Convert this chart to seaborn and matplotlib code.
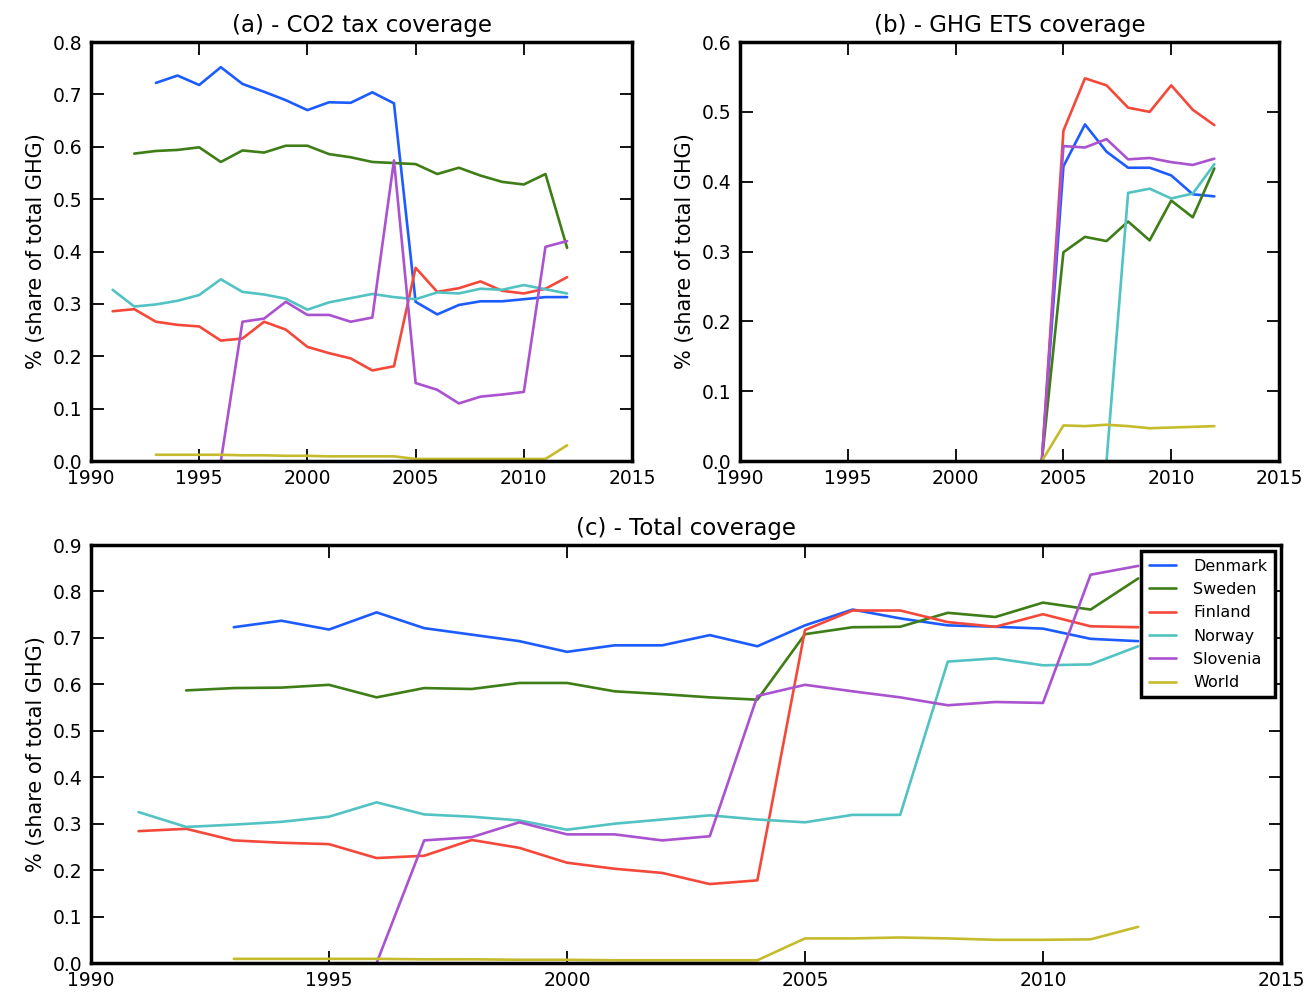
import numpy as np
import pandas as pd
import matplotlib
matplotlib.use("Agg")
import matplotlib.pyplot as plt
import seaborn as sns

countries = ["Denmark", "Sweden", "Finland", "Norway", "Slovenia", "World"]
colors = ["#1c5cff", "#3f7d17", "#f4493a", "#52c2c2", "#aa52cf", "#c5bb2d"]

years = list(range(1991, 2013))  # 1991..2012
N = None

# (a) CO2 tax coverage
tax_denmark = [N, N, 0.722, 0.736, 0.718, 0.752, 0.720, 0.705, 0.689, 0.670, 0.685, 0.684,
               0.704, 0.683, 0.304, 0.280, 0.298, 0.305, 0.305, 0.309, 0.313, 0.313]
tax_sweden = [N, 0.587, 0.592, 0.594, 0.599, 0.571, 0.593, 0.589, 0.602, 0.602, 0.586, 0.580,
              0.571, 0.569, 0.567, 0.548, 0.560, 0.545, 0.533, 0.528, 0.548, 0.407]
tax_finland = [0.286, 0.290, 0.266, 0.260, 0.257, 0.230, 0.234, 0.266, 0.251, 0.218, 0.206, 0.196,
               0.173, 0.181, 0.369, 0.323, 0.330, 0.343, 0.325, 0.320, 0.329, 0.351]
tax_norway = [0.327, 0.295, 0.299, 0.306, 0.317, 0.347, 0.323, 0.318, 0.310, 0.289, 0.303, 0.311,
              0.319, 0.313, 0.309, 0.322, 0.320, 0.329, 0.327, 0.336, 0.328, 0.320]
tax_slovenia = [N, N, N, N, N, 0.0, 0.266, 0.272, 0.304, 0.279, 0.279, 0.266,
                0.274, 0.574, 0.149, 0.136, 0.110, 0.123, 0.127, 0.132, 0.409, 0.420]
tax_world = [N, N, 0.012, 0.012, 0.012, 0.012, 0.011, 0.011, 0.010, 0.010, 0.009, 0.009,
             0.009, 0.009, 0.004, 0.004, 0.004, 0.004, 0.004, 0.004, 0.004, 0.030]

# (b) GHG ETS coverage
ets_denmark = [N] * 13 + [0.0, 0.422, 0.482, 0.443, 0.420, 0.420, 0.409, 0.382, 0.379]
ets_sweden = [N] * 13 + [0.0, 0.299, 0.321, 0.315, 0.343, 0.316, 0.373, 0.349, 0.419]
ets_finland = [N] * 13 + [0.0, 0.473, 0.548, 0.538, 0.506, 0.500, 0.538, 0.503, 0.481]
ets_norway = [N] * 16 + [0.0, 0.384, 0.390, 0.376, 0.383, 0.425]
ets_slovenia = [N] * 13 + [0.0, 0.451, 0.449, 0.461, 0.432, 0.434, 0.428, 0.424, 0.433]
ets_world = [N] * 13 + [0.0, 0.051, 0.050, 0.052, 0.050, 0.047, 0.048, 0.049, 0.050]

# (c) Total coverage
tot_denmark = [N, N, 0.723, 0.737, 0.718, 0.755, 0.721, 0.707, 0.693, 0.670, 0.684, 0.684,
               0.706, 0.682, 0.727, 0.761, 0.742, 0.727, 0.724, 0.720, 0.698, 0.693]
tot_sweden = [N, 0.587, 0.592, 0.593, 0.599, 0.572, 0.592, 0.590, 0.603, 0.603, 0.585, 0.579,
              0.572, 0.567, 0.708, 0.723, 0.724, 0.754, 0.745, 0.776, 0.761, 0.828]
tot_finland = [0.284, 0.289, 0.264, 0.259, 0.256, 0.226, 0.231, 0.265, 0.248, 0.216, 0.203, 0.194,
               0.170, 0.178, 0.717, 0.759, 0.759, 0.734, 0.724, 0.751, 0.725, 0.723]
tot_norway = [0.325, 0.293, 0.298, 0.304, 0.315, 0.346, 0.320, 0.315, 0.307, 0.287, 0.300, 0.309,
              0.318, 0.309, 0.303, 0.319, 0.319, 0.649, 0.656, 0.641, 0.643, 0.682]
tot_slovenia = [N, N, N, N, N, 0.0, 0.264, 0.271, 0.303, 0.277, 0.277, 0.264,
                0.273, 0.575, 0.599, 0.585, 0.572, 0.555, 0.562, 0.560, 0.836, 0.855]
tot_world = [N, N, 0.009, 0.009, 0.009, 0.009, 0.008, 0.008, 0.007, 0.007, 0.006, 0.006,
             0.006, 0.006, 0.053, 0.053, 0.055, 0.053, 0.050, 0.050, 0.051, 0.078]

titles = ["(a) - CO2 tax coverage", "(b) - GHG ETS coverage", "(c) - Total coverage"]
ylabel = "% (share of total GHG)"
xticks = [1990, 1995, 2000, 2005, 2010, 2015]


def long_frame(series_list):
    rows = []
    for name, vals in zip(countries, series_list):
        for y, v in zip(years, vals):
            if v is not None:
                rows.append({"year": y, "value": v, "country": name})
    return pd.DataFrame(rows)


df_a = long_frame([tax_denmark, tax_sweden, tax_finland, tax_norway, tax_slovenia, tax_world])
df_b = long_frame([ets_denmark, ets_sweden, ets_finland, ets_norway, ets_slovenia, ets_world])
df_c = long_frame([tot_denmark, tot_sweden, tot_finland, tot_norway, tot_slovenia, tot_world])

sns.set_style("ticks")
plt.rcParams.update({
    "font.family": ["DejaVu Sans"],
    "xtick.direction": "in", "ytick.direction": "in",
    "xtick.top": True, "ytick.right": True,
    "xtick.major.size": 9, "ytick.major.size": 9,
    "xtick.major.width": 1.3, "ytick.major.width": 1.3,
    "xtick.major.pad": 6, "ytick.major.pad": 6,
    "axes.linewidth": 2.5, "axes.edgecolor": "black",
    "xtick.color": "black", "ytick.color": "black",
    "xtick.labelsize": 13.5, "ytick.labelsize": 13.5,
    "text.color": "black", "axes.labelcolor": "black",
})

palette = dict(zip(countries, colors))

fig = plt.figure(figsize=(13.11, 9.96), dpi=100)
ax_a = fig.add_axes([0.0694, 0.5371, 0.4127, 0.4207])
ax_b = fig.add_axes([0.5645, 0.5371, 0.4111, 0.4207])
ax_c = fig.add_axes([0.0694, 0.0331, 0.9077, 0.4197])

specs = [(ax_a, df_a, 0.8, titles[0], False),
         (ax_b, df_b, 0.6, titles[1], False),
         (ax_c, df_c, 0.9, titles[2], True)]

for ax, df, ymax, title, show_leg in specs:
    sns.lineplot(data=df, x="year", y="value", hue="country", hue_order=countries,
                 palette=palette, linewidth=1.9, ax=ax, legend=show_leg, estimator=None)
    ax.set_xlim(1990, 2015)
    ax.set_ylim(0, ymax)
    ax.set_xticks(xticks)
    ax.set_yticks(np.round(np.arange(0, ymax + 0.001, 0.1), 1))
    ax.yaxis.set_major_formatter(matplotlib.ticker.FormatStrFormatter("%.1f"))
    ax.set_xlabel("")
    ax.set_ylabel(ylabel, fontsize=15, labelpad=5)
    ax.set_title(title, fontsize=16.5, pad=7)
    for s in ax.spines.values():
        s.set_visible(True)
        s.set_linewidth(2.5)
    ax.set_facecolor("white")

leg = ax_c.legend(loc="upper right", fontsize=11.5, frameon=True, fancybox=False,
                  handlelength=1.7, borderpad=0.45, labelspacing=0.52,
                  handletextpad=1.1, borderaxespad=0.4)
leg.get_frame().set_edgecolor("black")
leg.get_frame().set_linewidth(2.5)
leg.get_frame().set_alpha(1)

fig.savefig("out.png", dpi=100)
